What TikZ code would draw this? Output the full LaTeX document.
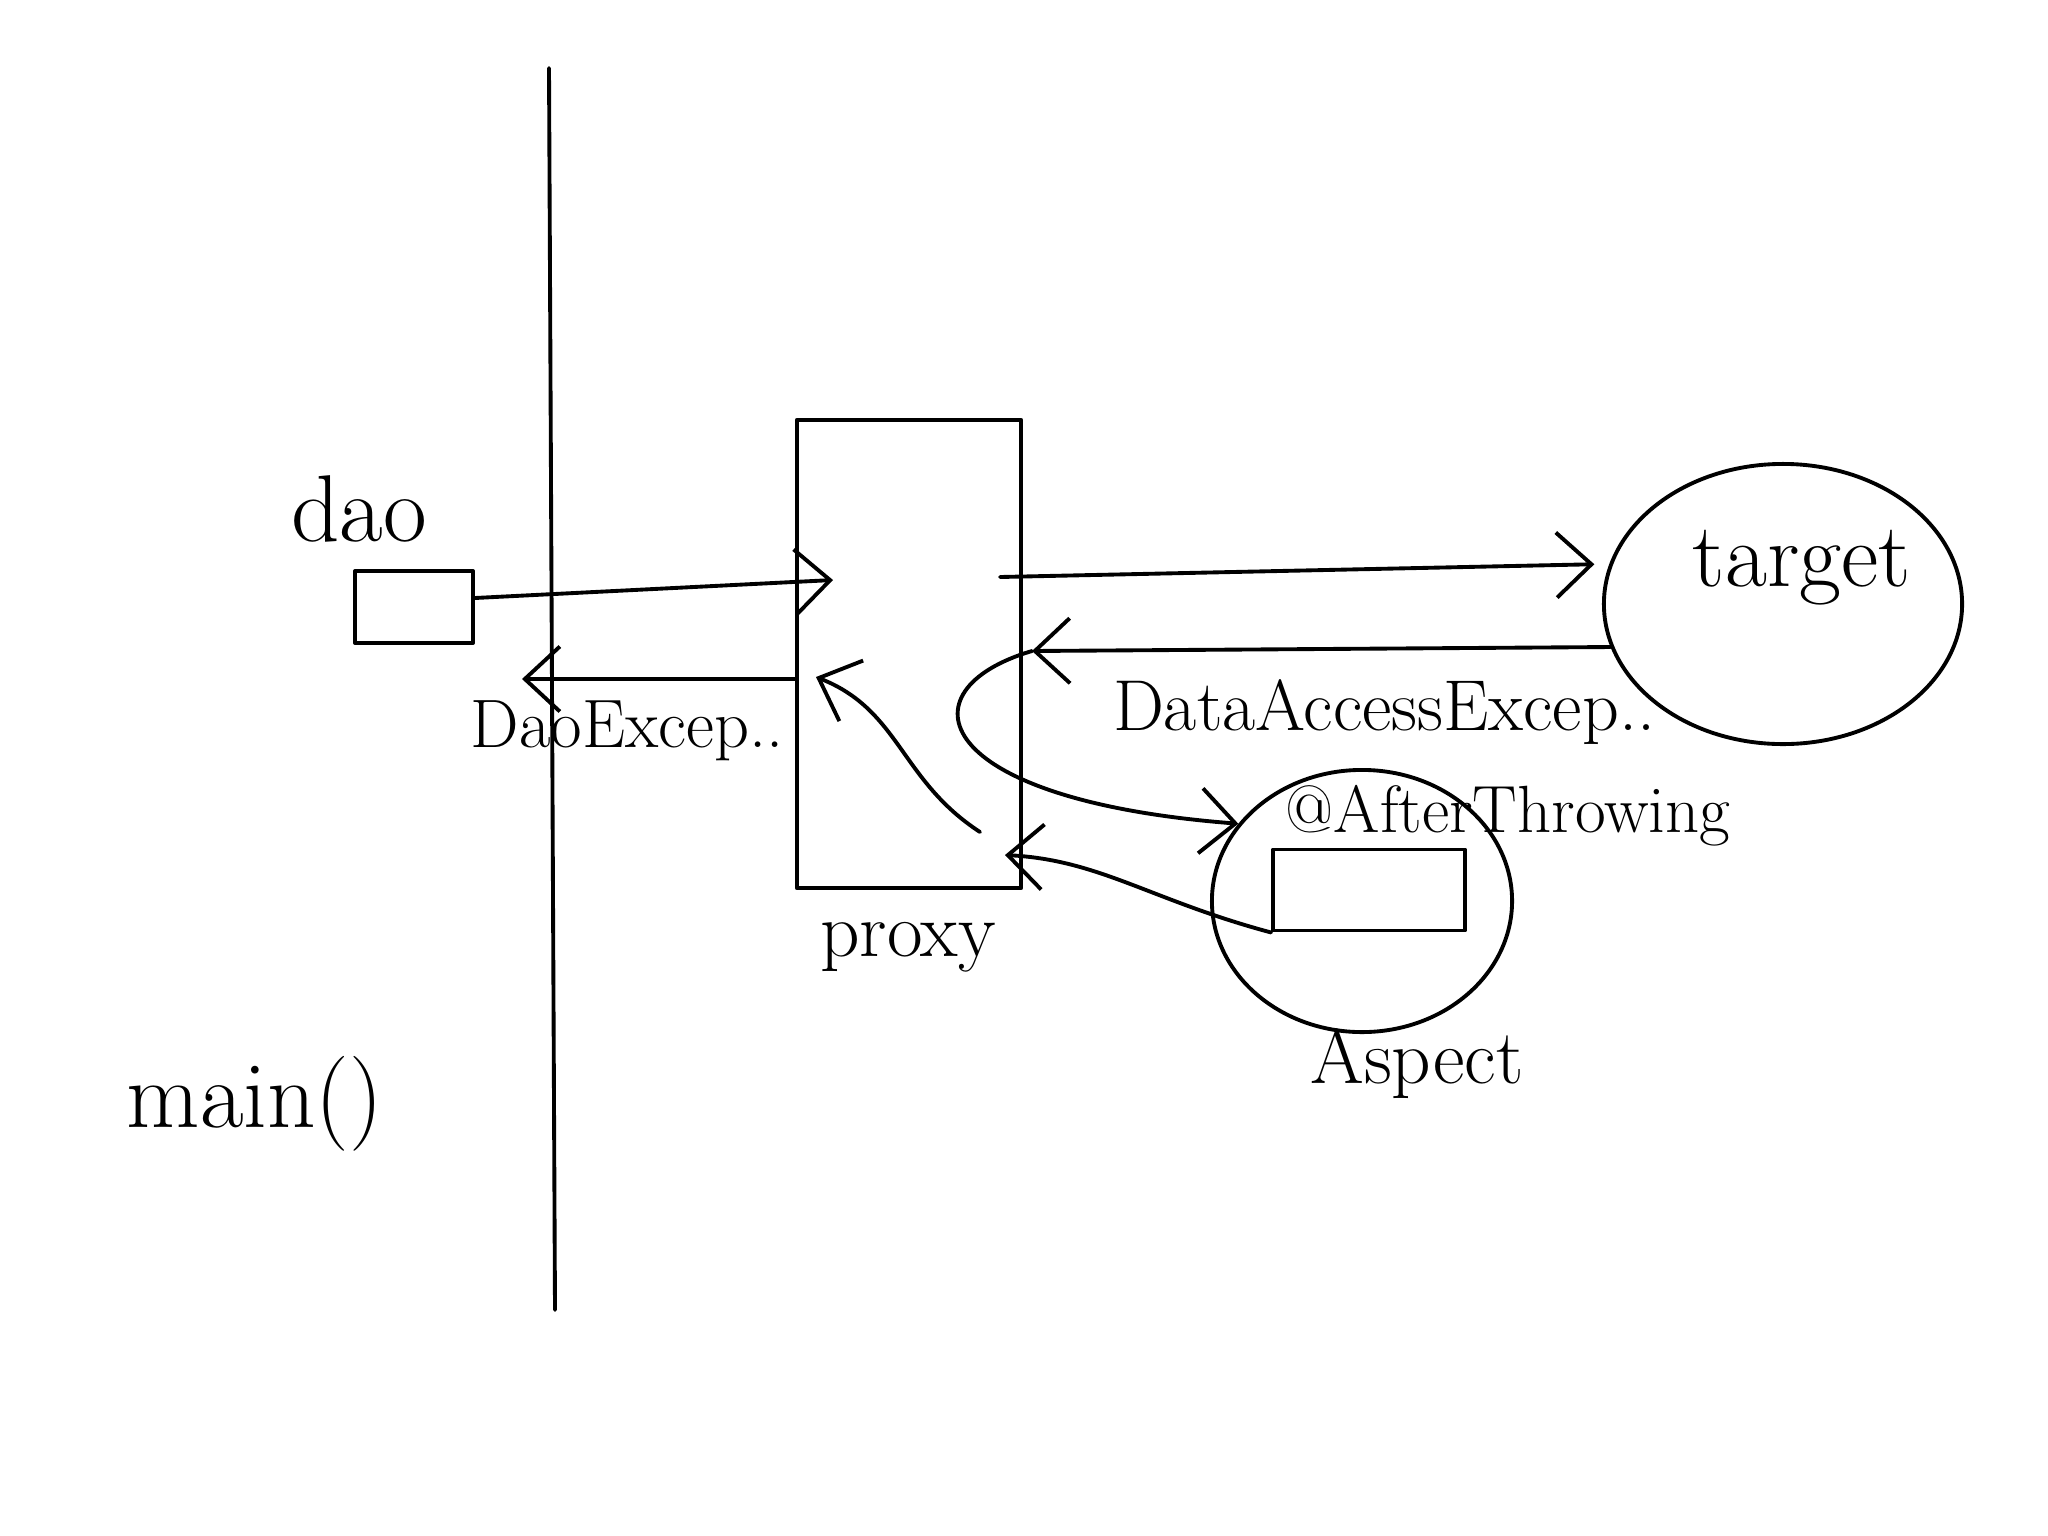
\documentclass[tikz,border=0pt]{standalone}
\usetikzlibrary{arrows.meta,shapes.geometric}

\tikzset{
  pen/.style={line width=1.1pt, line cap=round, line join=round},
  arr/.style={pen, -{Straight Barb[length=3.5mm,width=6.5mm]}},
  lbl/.style={inner sep=0pt, font=\fontsize{22}{26}\selectfont},
  blob/.style={pen, draw, ellipse, inner sep=0pt},
  boxnode/.style={pen, draw, rectangle, inner sep=0pt}
}

\begin{document}
\begin{tikzpicture}[x=0.01cm, y=-0.01cm]
\useasboundingbox (0,0) rectangle (2048,1536);

% the wall between main() and the rest
\coordinate (walltop) at (549,68);
\coordinate (wallbot) at (555,1310);
\draw[pen] (walltop) -- (wallbot);

% caller
\node[lbl, font=\fontsize{27}{30}\selectfont] (daolbl) at (359,509) {dao};
\node[boxnode, minimum width=1.18cm, minimum height=0.72cm] (dao) at (414,607) {};
\node[lbl, font=\fontsize{27}{30}\selectfont] (mainlbl) at (255,1104) {main()};

% proxy
\node[boxnode, minimum width=2.24cm, minimum height=4.68cm] (proxy) at (909,654) {};
\node[lbl] (proxylbl) at (908,947) {proxy};

% target
\node[blob, minimum width=3.58cm, minimum height=2.8cm] (target) at (1783,604) {};
\node[lbl, font=\fontsize{26}{30}\selectfont] (targetlbl) at (1802,568) {target};

% aspect
\node[blob, minimum width=3.0cm, minimum height=2.62cm] (aspect) at (1362,901) {};
\node[boxnode, minimum width=1.92cm, minimum height=0.81cm] (advice) at (1369,890) {};
\node[lbl, font=\fontsize{19}{22}\selectfont] (afterlbl) at (1508,816) {@AfterThrowing};
\node[lbl] (aspectlbl) at (1417,1064) {Aspect};

% exception labels
\node[lbl, font=\fontsize{19.5}{23}\selectfont] (daoexc) at (627,731) {DaoExcep..};
\node[lbl, font=\fontsize{20.5}{24}\selectfont] (dataexc) at (1384,712) {DataAccessExcep..};

% arrow ends
\coordinate (callin) at (833,580);
\coordinate (daoret) at (522,679);
\coordinate (tcall) at (1000,577);
\coordinate (tret) at (1032,651);
\coordinate (advret) at (1005,855);
\coordinate (proxyin) at (980,832);
\coordinate (proxyret) at (816,677);

% calls
\draw[arr] ([yshift=0.9mm]dao.east) -- (callin);
\draw[arr, shorten >=1.5mm] (tcall) -- (target.167);

% exceptions back
\draw[arr] (target.194) -- (tret);
\draw[arr] (tret) .. controls (900,690) and (930,800) .. (aspect.148);
\draw[arr] (advice.south west) .. controls (1150,900) and (1100,860) .. (advret);
\draw[arr] (proxyin) .. controls (900,780) and (900,710) .. (proxyret);
\draw[arr] (proxy.west |- daoret) -- (daoret);
\end{tikzpicture}
\end{document}
